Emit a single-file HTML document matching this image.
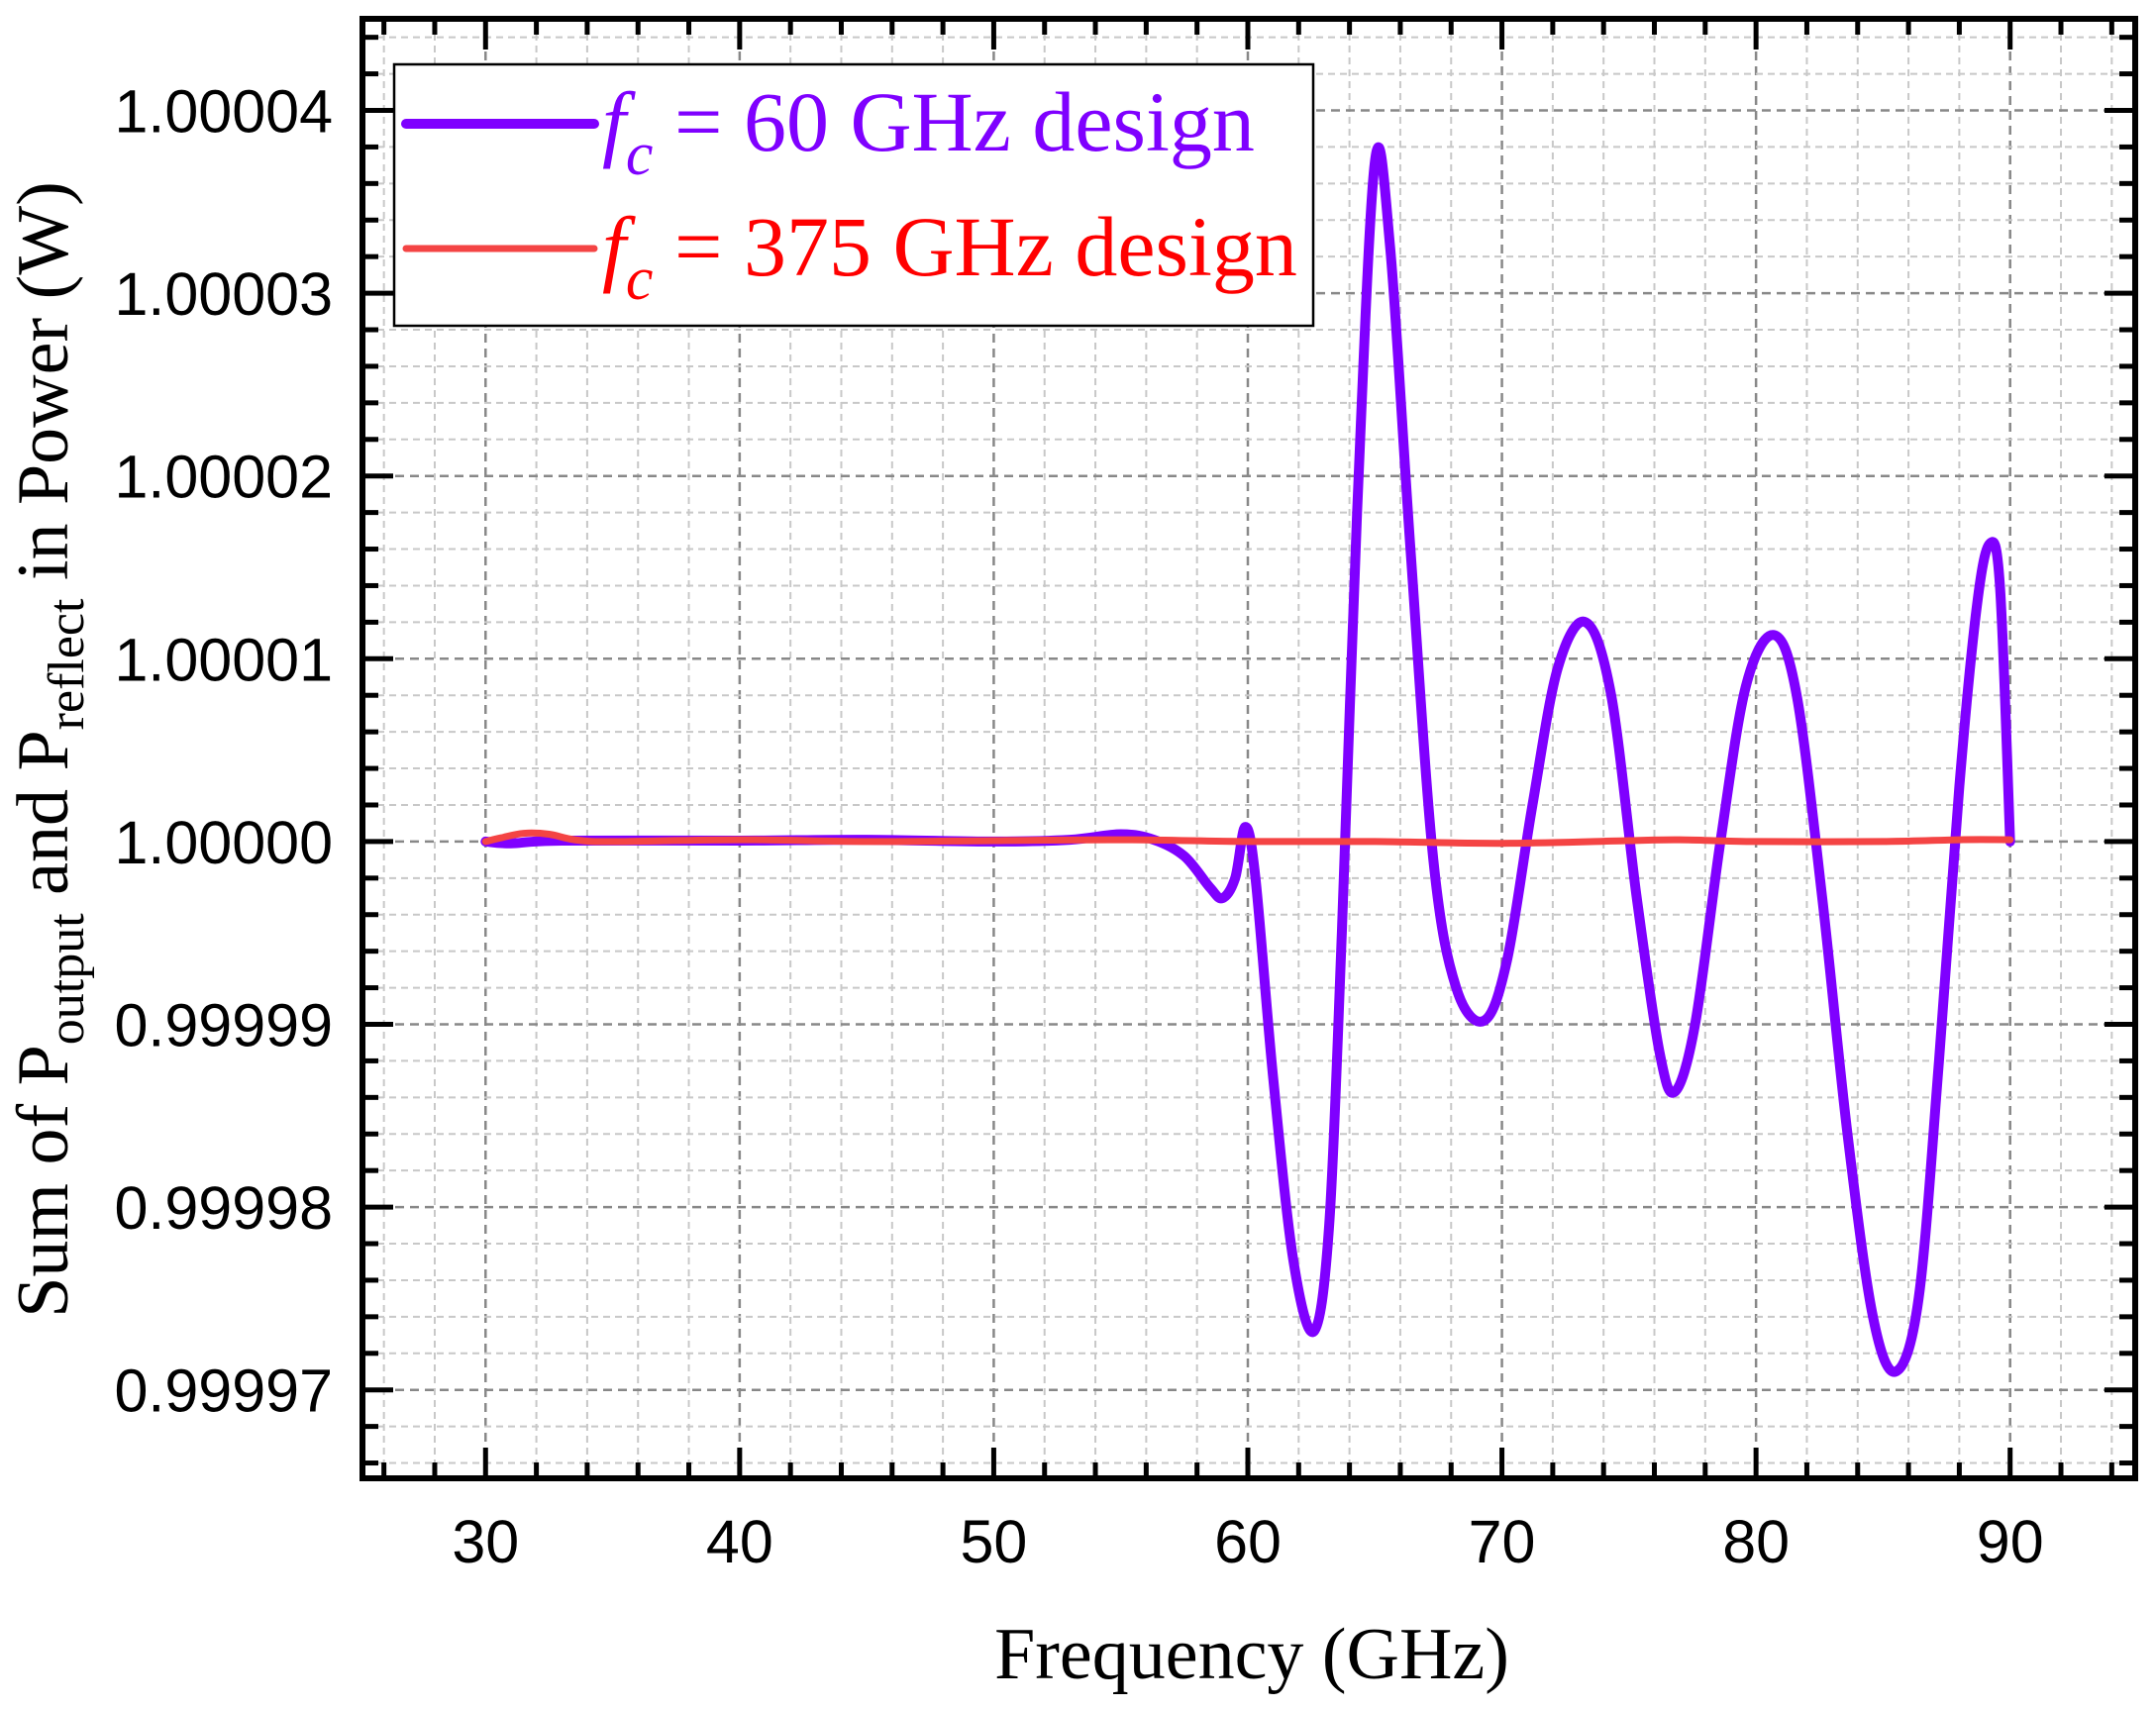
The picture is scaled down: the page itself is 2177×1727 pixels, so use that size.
<!DOCTYPE html>
<html><head><meta charset="utf-8">
<style>
html,body{margin:0;padding:0;background:#fff;}
svg{display:block;}
</style></head>
<body>
<svg id="s" width="2177" height="1727" xmlns="http://www.w3.org/2000/svg">
<g id="grid"></g>
<g id="curves"></g>
<rect x="366" y="19" width="1790" height="1474" fill="none" stroke="#000" stroke-width="6"/>
<g id="ticks"></g>
<g id="labels" font-family="Liberation Sans, Arial, sans-serif" font-size="61" fill="#000"></g>
<rect x="398" y="65" width="928" height="264" fill="#fff" stroke="#000" stroke-width="2.5"/>
<line x1="410" y1="125" x2="600" y2="125" stroke="#7f00ff" stroke-width="10" stroke-linecap="round"/>
<line x1="410" y1="251" x2="600" y2="251" stroke="#f44444" stroke-width="7" stroke-linecap="round"/>
<text x="608" y="152" font-family="Liberation Serif, serif" font-size="86" fill="#7f00ff"><tspan font-style="italic">f</tspan><tspan font-style="italic" font-size="62" dy="24">c</tspan><tspan dy="-24"> = 60 GHz design</tspan></text>
<text x="608" y="278" font-family="Liberation Serif, serif" font-size="86" fill="#ff0000"><tspan font-style="italic">f</tspan><tspan font-style="italic" font-size="62" dy="24">c</tspan><tspan dy="-24"> = 375 GHz design</tspan></text>
<text x="1264" y="1695" text-anchor="middle" font-family="Liberation Serif, serif" font-size="74" fill="#000">Frequency (GHz)</text>
<text transform="translate(68,757) rotate(-90)" text-anchor="middle" font-family="Liberation Serif, serif" font-size="74" fill="#000">Sum of P<tspan font-size="52" dy="16">output</tspan><tspan dy="-16"> and P</tspan><tspan font-size="52" dy="16">reflect</tspan><tspan dy="-16"> in Power (W)</tspan></text>
</svg>
<script>
var NS="http://www.w3.org/2000/svg";
function X(f){return 362+(f-25)*25.657;}
function Y(v){return 1496-(v+3.5)*184.6;}
function el(p,t,a){var e=document.createElementNS(NS,t);for(var k in a)e.setAttribute(k,a[k]);p.appendChild(e);return e;}
var grid=document.getElementById('grid'),ticks=document.getElementById('ticks'),labels=document.getElementById('labels');
for(var f=26;f<=94;f+=2){
  var maj=(f%10==0);var x=X(f);
  el(grid,'line',{x1:x,y1:22,x2:x,y2:1490,stroke:maj?'#888':'#c8c8c8','stroke-width':maj?2.5:2,'stroke-dasharray':maj?'9,6':'7,5'});
  var L=maj?28:13;
  el(ticks,'line',{x1:x,y1:1490,x2:x,y2:1490-L,stroke:'#000','stroke-width':5});
  el(ticks,'line',{x1:x,y1:22,x2:x,y2:22+L,stroke:'#000','stroke-width':5});
  if(maj){var t=el(labels,'text',{x:x,y:1578,'text-anchor':'middle'});t.textContent=f;}
}
for(var i=-17;i<=22;i++){
  var v=i*0.2;var maj=(i%5==0);var y=Y(v);
  el(grid,'line',{x1:369,y1:y,x2:2153,y2:y,stroke:maj?'#888':'#c8c8c8','stroke-width':maj?2.5:2,'stroke-dasharray':maj?'9,6':'7,5'});
  var L=maj?28:13;
  el(ticks,'line',{x1:369,y1:y,x2:369+L,y2:y,stroke:'#000','stroke-width':5});
  el(ticks,'line',{x1:2153,y1:y,x2:2153-L,y2:y,stroke:'#000','stroke-width':5});
  if(maj){var t=el(labels,'text',{x:336,y:y+22,'text-anchor':'end'});
    t.textContent=(1+i/5*1e-5).toFixed(5);}
}
function cr(pts){
  var P=pts.map(function(p){return [X(p[0]),Y(p[1])];});
  var d='M'+P[0][0].toFixed(1)+','+P[0][1].toFixed(1);
  for(var i=0;i<P.length-1;i++){
    var p0=P[i-1]||P[i],p1=P[i],p2=P[i+1],p3=P[i+2]||P[i+1];
    var c1=[p1[0]+(p2[0]-p0[0])/6,p1[1]+(p2[1]-p0[1])/6];
    var c2=[p2[0]-(p3[0]-p1[0])/6,p2[1]-(p3[1]-p1[1])/6];
    d+=' C'+c1[0].toFixed(1)+','+c1[1].toFixed(1)+' '+c2[0].toFixed(1)+','+c2[1].toFixed(1)+' '+p2[0].toFixed(1)+','+p2[1].toFixed(1);
  }
  return d;
}
var purple=[[30,0],[31,-0.01],[33,0.005],[40,0.005],[45,0.01],[50,0.0],[53,0.01],[55,0.04],[56.3,0.01],[57.5,-0.08],[58.5,-0.25],[59.0,-0.31],[59.5,-0.2],[59.9,0.08],[60.3,-0.2],[61,-1.3],[61.8,-2.3],[62.6,-2.68],[63.2,-2.1],[63.7,-0.5],[64.3,1.8],[65,3.72],[65.6,3.25],[66.4,1.6],[67.3,-0.1],[68.2,-0.8],[69.3,-0.98],[70.2,-0.65],[71.2,0.2],[72.2,0.95],[73.3,1.2],[74.3,0.8],[75.3,-0.3],[76.2,-1.15],[76.8,-1.37],[77.6,-1.0],[78.6,0.0],[79.6,0.85],[80.7,1.13],[81.6,0.8],[82.6,-0.3],[83.6,-1.6],[84.6,-2.6],[85.5,-2.9],[86.4,-2.5],[87.2,-1.2],[88.0,0.3],[88.7,1.3],[89.2,1.63],[89.6,1.4],[90,0.0]];
var red=[[30,0],[30.6,0.02],[31.5,0.045],[32.5,0.04],[33.5,0.01],[35,0.0],[40,0.01],[45,0.0],[50,0.005],[55,0.01],[60,0.0],[65,0.0],[70,-0.01],[75,0.005],[77,0.01],[80,0.0],[85,0.0],[88,0.01],[90,0.01]];
var c=document.getElementById('curves');
el(c,'path',{d:cr(purple),fill:'none',stroke:'#7f00ff','stroke-width':10,'stroke-linejoin':'round','stroke-linecap':'round'});
el(c,'path',{d:cr(red),fill:'none',stroke:'#f44444','stroke-width':7,'stroke-linejoin':'round','stroke-linecap':'round'});
</script>
</body></html>
